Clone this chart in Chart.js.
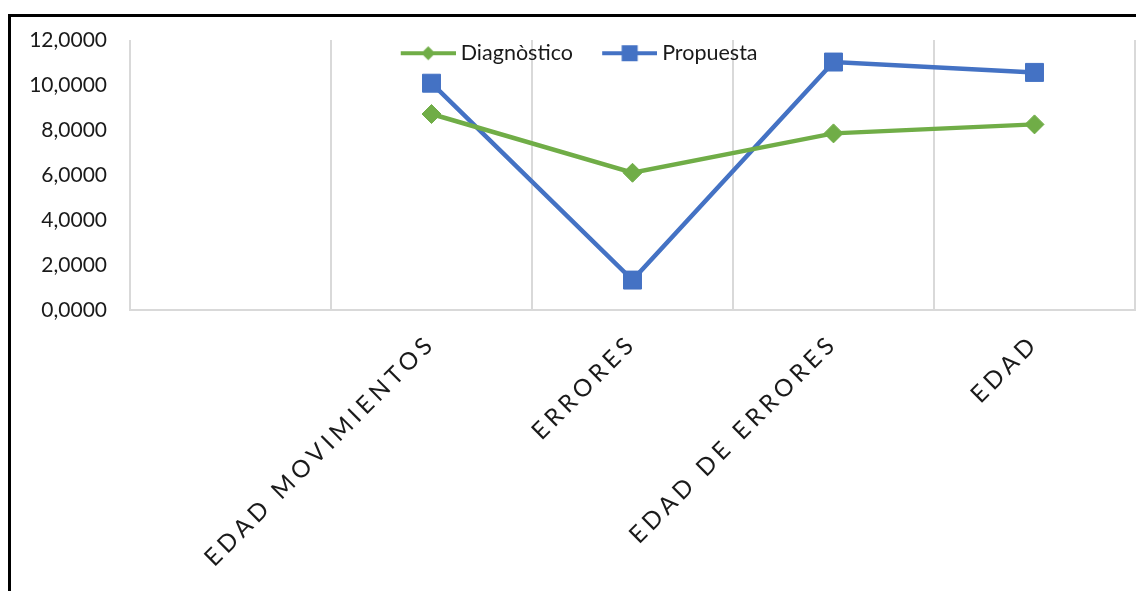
<!DOCTYPE html>
<html>
<head>
<meta charset="utf-8">
<script src="https://cdn.jsdelivr.net/npm/chart.js@4.4.0/dist/chart.umd.min.js"></script>
<style>
  html, body { margin: 0; padding: 0; background: #fff; overflow: hidden; }
  #frame { position: absolute; left: 8px; top: 14px; right: 0; bottom: 0;
           border-left: 3px solid #000; border-top: 3px solid #000; }
  #wrap { position: absolute; left: 0; top: 0; width: 1136px; height: 591px; }
</style>
</head>
<body>
<div id="frame"></div>
<div id="wrap"><canvas id="chart"></canvas></div>
<script>
// data
const categories = ["", "EDAD MOVIMIENTOS", "ERRORES", "EDAD DE ERRORES", "EDAD"];
const diagnostico = [null, 8.71, 6.10, 7.85, 8.25];
const propuesta = [null, 10.08, 1.33, 11.02, 10.56];
const yTicks = [0, 2, 4, 6, 8, 10, 12];

const green = "#70AD47";
const blue = "#4472C4";

// category axis with spaced-out letters, like the original
class SpacedCategoryScale extends Chart.CategoryScale {
  drawLabels(area) {
    this.ctx.save();
    this.ctx.letterSpacing = "4.5px";
    super.drawLabels(area);
    this.ctx.restore();
  }
}
SpacedCategoryScale.id = "spacedCategory";
SpacedCategoryScale.defaults = Chart.CategoryScale.defaults;
Chart.register(SpacedCategoryScale);

// legend icons: line with marker through it
function legendIcon(color, shape) {
  const c = document.createElement("canvas");
  c.width = 80; c.height = 20;
  const g = c.getContext("2d");
  g.strokeStyle = color;
  g.fillStyle = color;
  g.lineWidth = 4;
  g.beginPath();
  g.moveTo(25, 10);
  g.lineTo(80, 10);
  g.stroke();
  const mx = 52.5;
  if (shape === "diamond") {
    g.beginPath();
    g.moveTo(mx, 3); g.lineTo(mx + 7, 10); g.lineTo(mx, 17); g.lineTo(mx - 7, 10);
    g.closePath(); g.fill();
  } else {
    g.fillRect(mx - 8, 2, 16, 16);
  }
  return c;
}
const icons = [legendIcon(green, "diamond"), legendIcon(blue, "square")];

// legend sits over the plot like in Excel: reserve almost no room for it,
// then give its box back its height so it isn't clipped
const legendShift = {
  id: "legendShift",
  beforeInit(chart) {
    const fit = chart.legend.fit;
    chart.legend.fit = function () {
      fit.bind(chart.legend)();
      this.height = 7.5;
    };
  },
  afterLayout(chart) {
    chart.legend.height = 50;
    chart.legend.bottom = chart.legend.top + 50;
  }
};

new Chart(document.getElementById("chart"), {
  type: "line",
  data: {
    labels: categories,
    datasets: [
      {
        label: "Diagnòstico",
        data: diagnostico,
        borderColor: green,
        backgroundColor: green,
        borderWidth: 4.5,
        pointStyle: "rectRot",
        pointRadius: 9.5,
        pointBorderWidth: 1,
        pointBackgroundColor: green,
        pointBorderColor: green,
        tension: 0
      },
      {
        label: "Propuesta",
        data: propuesta,
        borderColor: blue,
        backgroundColor: blue,
        borderWidth: 4.5,
        pointStyle: "rect",
        pointRadius: 12.7,
        pointBorderWidth: 1,
        pointBackgroundColor: blue,
        pointBorderColor: blue,
        tension: 0
      }
    ]
  },
  options: {
    responsive: true,
    maintainAspectRatio: false,
    animation: false,
    layout: { autoPadding: false, padding: { left: 4, right: 1, top: 32.5, bottom: 0 } },
    plugins: {
      tooltip: { enabled: false },
      legend: {
        position: "top",
        labels: {
          font: { family: "Lato", size: 21.5 },
          color: "#1a1a1a",
          padding: 10,
          usePointStyle: true,
          pointStyleWidth: 68.5,
          generateLabels(chart) {
            const items = Chart.defaults.plugins.legend.labels.generateLabels(chart);
            items.forEach((it, i) => { it.pointStyle = icons[i]; it.rotation = 0; });
            return items;
          }
        }
      }
    },
    scales: {
      x: {
        type: "spacedCategory",
        offset: true,
        grid: { display: true, offset: true, color: "#D9D9D9", lineWidth: 2, drawTicks: false },
        border: { display: true, color: "#D9D9D9", width: 2 },
        ticks: {
          autoSkip: false,
          minRotation: 45,
          maxRotation: 45,
          padding: 19,
          color: "#1a1a1a",
          font: { family: "Lato", size: 24 }
        },
        afterFit(scale) {
          scale.height = 281;
          scale.paddingLeft = 0;
          scale.paddingRight = 0;
        }
      },
      y: {
        min: 0,
        max: 12,
        afterBuildTicks(scale) { scale.ticks = yTicks.map(v => ({ value: v })); },
        grid: { display: false, drawTicks: false },
        border: { display: false },
        ticks: {
          padding: 23,
          color: "#1a1a1a",
          font: { family: "Lato", size: 21 },
          callback: v => v.toFixed(4).replace(".", ",")
        },
        afterFit(scale) { scale.width = 126; }
      }
    }
  },
  plugins: [legendShift]
});
</script>
</body>
</html>
